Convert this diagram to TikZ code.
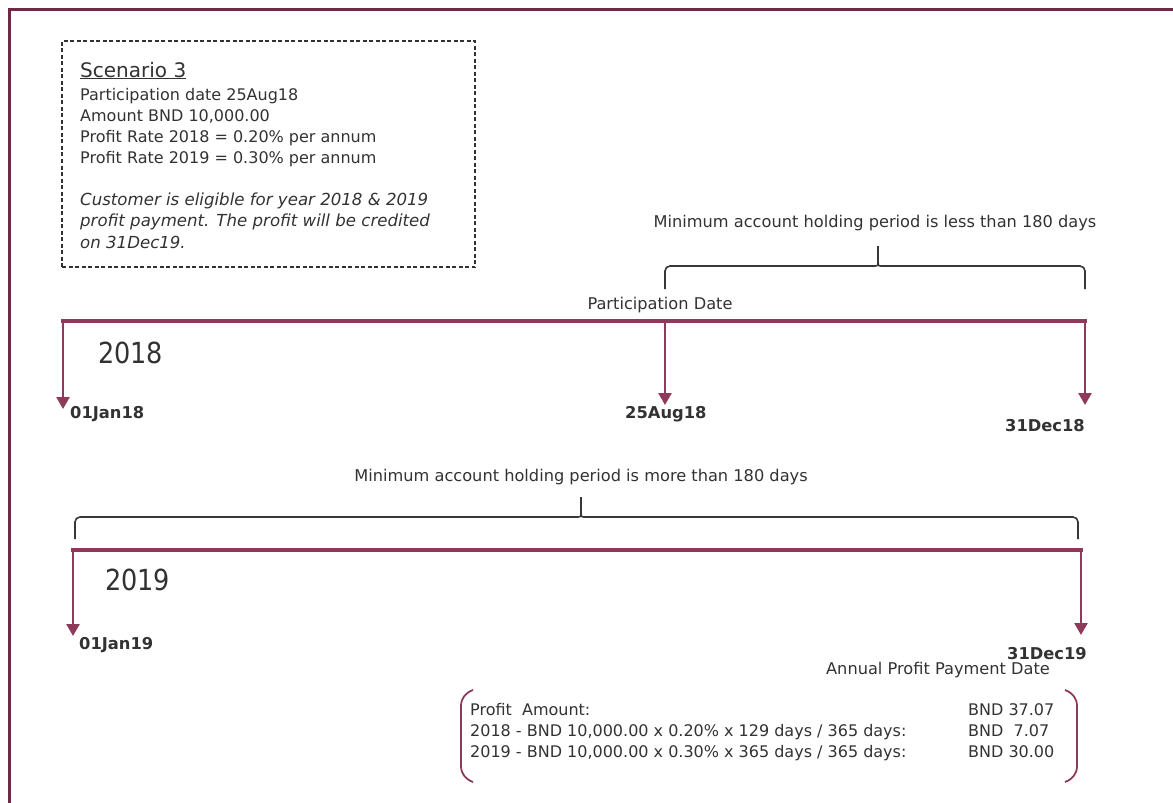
\documentclass[tikz,border=0pt]{standalone}
\usepackage{fontspec}
\setmainfont{DejaVu Sans}
\newfontfamily\yearfont{DejaVu Sans}[FakeStretch=0.88]
\usetikzlibrary{arrows.meta,positioning}

\definecolor{framemaroon}{RGB}{112,40,70}
\definecolor{linemaroon}{RGB}{142,58,90}
\definecolor{textgray}{RGB}{50,50,50}
\definecolor{bracegray}{RGB}{55,55,55}

\tikzset{
  timeline/.style = {draw=linemaroon, line width=3.5pt, line cap=rect},
  datearrow/.style = {draw=linemaroon, line width=2.5pt, -{Triangle[length=12pt,width=13pt]}},
  datetext/.style = {text=textgray, font=\bfseries\fontsize{16.3}{18}\selectfont, inner sep=0pt},
  yeartext/.style = {text=textgray, font=\yearfont\fontsize{29}{33}\selectfont, inner sep=0pt},
  notetext/.style = {text=textgray, font=\fontsize{16}{21}\selectfont, inner sep=0pt},
  labeltext/.style = {text=textgray, font=\fontsize{16.2}{18}\selectfont, inner sep=0pt},
  bracket/.style = {draw=bracegray, line width=1.6pt, rounded corners=5pt},
  paren/.style = {draw=linemaroon, line width=1.8pt}
}

\begin{document}
\begin{tikzpicture}[x=1pt, y=-1pt]
\useasboundingbox (0,0) rectangle (1173,803);

% outer frame
\draw[framemaroon, line width=3.5pt] (9.5,815) -- (9.5,9.5) -- (1185,9.5);

% scenario box
\node[draw=textgray, dashed, dash pattern=on 4pt off 2.5pt, line width=1.2pt,
      minimum width=413pt, minimum height=226pt, inner sep=0pt] (scenbox) at (268.5,154) {};
\node[text=textgray, font=\fontsize{20}{22}\selectfont, inner sep=0pt, anchor=base west]
      (scentitle) at (80,77) {\underline{Scenario 3}};
\node[notetext, anchor=base west] (scendetail) at (80,100)
      {\begin{tabular}[t]{@{}l@{}}
       Participation date 25Aug18\\
       Amount BND 10,000.00\\
       Profit Rate 2018 = 0.20\% per annum\\
       Profit Rate 2019 = 0.30\% per annum
       \end{tabular}};
\node[notetext, anchor=base west, font=\itshape\fontsize{16.6}{21.5}\selectfont] (scennote) at (80,205)
      {\begin{tabular}[t]{@{}l@{}}
       Customer is eligible for year 2018 \& 2019\\
       profit payment. The profit will be credited\\
       on 31Dec19.
       \end{tabular}};

% 2018 timeline
\coordinate (s18) at (63,321);
\coordinate (p18) at (665,321);
\coordinate (e18) at (1085,321);
\coordinate (s18tip) at (63,409);
\coordinate (p18tip) at (665,405);
\coordinate (e18tip) at (1085,405);
\draw[timeline] (s18) -- (e18);
\draw[datearrow] (s18) -- (s18tip);
\draw[datearrow] (p18) -- (p18tip);
\draw[datearrow] (e18) -- (e18tip);
\node[yeartext, anchor=base west] (yr18) at (98,363) {2018};
\node[datetext, anchor=base west] (jan18) at (70,418) {01Jan18};
\node[datetext, anchor=base west] (aug18) at (625,418) {25Aug18};
\node[datetext, anchor=base east] (dec18) at (1085,431) {31Dec18};
\node[labeltext, anchor=base] (partdate) at (660,309) {Participation Date};

% brace over the short period
\node[labeltext, anchor=base] (lesslabel) at (875,227) {Minimum account holding period is less than 180 days};
\draw[bracket] (665,289) |- (870,266) .. controls (878,266) .. (878,256) -- (878,246);
\draw[bracket] (1085,289) |- (886,266) .. controls (878,266) .. (878,256);

% brace over the full year
\node[labeltext, anchor=base] (morelabel) at (581,481) {Minimum account holding period is more than 180 days};
\draw[bracket] (75,539) |- (573,517) .. controls (581,517) .. (581,507) -- (581,497);
\draw[bracket] (1078,539) |- (589,517) .. controls (581,517) .. (581,507);

% 2019 timeline
\coordinate (s19) at (73,550);
\coordinate (e19) at (1081,550);
\coordinate (s19tip) at (73,636);
\coordinate (e19tip) at (1081,635);
\draw[timeline] (s19) -- (e19);
\draw[datearrow] (s19) -- (s19tip);
\draw[datearrow] (e19) -- (e19tip);
\node[yeartext, anchor=base west] (yr19) at (105,590) {2019};
\node[datetext, anchor=base west] (jan19) at (79,649) {01Jan19};
\node[datetext, anchor=base east] (dec19) at (1087,659) {31Dec19};
\node[labeltext, anchor=base east] (paydate) at (1050,674) {Annual Profit Payment Date};

% profit amount
\draw[paren] (473,690) to[out=200,in=90] (461,706) -- (461,766) to[out=-90,in=160] (473,782);
\draw[paren] (1065,690) to[out=-20,in=90] (1077,706) -- (1077,766) to[out=-90,in=20] (1065,782);
\node[labeltext, anchor=base west, font=\fontsize{16}{21}\selectfont] (calc) at (470,715)
      {\begin{tabular}[t]{@{}l@{}}
       Profit\ \ Amount:\\
       2018 - BND 10,000.00 x 0.20\% x 129 days / 365 days:\\
       2019 - BND 10,000.00 x 0.30\% x 365 days / 365 days:
       \end{tabular}};
\node[labeltext, anchor=base west, font=\fontsize{16}{21}\selectfont] (amount) at (968,715)
      {\begin{tabular}[t]{@{}l@{}}
       BND 37.07\\
       BND\ \ 7.07\\
       BND 30.00
       \end{tabular}};
\end{tikzpicture}
\end{document}
